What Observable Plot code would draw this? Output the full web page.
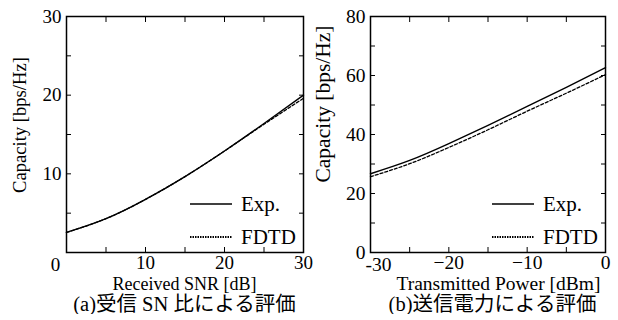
<!DOCTYPE html>
<html><head><meta charset="utf-8">
<script src="https://cdn.jsdelivr.net/npm/d3@7"></script>
<script src="https://cdn.jsdelivr.net/npm/@observablehq/plot@0.6"></script>
</head>
<body style="margin:0;padding:0;background:#fff;font-family:'Liberation Serif'">
<div id="row" style="display:flex;width:618px;"><div id="pa" style="position:relative;width:309px;"></div><div id="pb" style="position:relative;width:309px;"></div></div>
<script>
// Panel (a): capacity vs received SNR
const snrDb = [0, 5, 10, 15, 20, 25, 30];
const capExpA = [2.55, 4.3, 6.75, 9.65, 12.9, 16.4, 20.0];
const capFdtdA = [2.55, 4.3, 6.75, 9.65, 12.9, 16.3, 19.6];
// Panel (b): capacity vs transmitted power
const txPower = [-30, -25, -20, -15, -10, -5, 0];
const capExpB = [26.7, 31.2, 36.9, 43.1, 49.5, 56.0, 62.7];
const capFdtdB = [25.7, 30.1, 35.6, 41.6, 47.9, 54.0, 60.3];
const seriesNames = ["Exp.", "FDTD"];
const yTitle = "Capacity [bps/Hz]";
const xTitleA = "Received SNR [dB]";
const xTitleB = "Transmitted Power [dBm]";
const capA = "(a)受信 SN 比による評価";
const capB = "(b)送信電力による評価";

function rows(xs, ys){ return xs.map((x,i)=>({x, y: ys[i]})); }

function panel(o){
  const blank = () => "";
  return Plot.plot({
    width: 309, height: 272,
    marginLeft: o.ml, marginRight: o.mr, marginTop: 16, marginBottom: 20,
    x: {domain: o.xd}, y: {domain: o.yd},
    style: "font-family:'Liberation Serif';font-size:" + o.fs + "px;color:black;background:transparent;overflow:visible;display:block",
    marks: [
      Plot.axisX({anchor: "bottom", ticks: o.xMinor, tickSize: -5, tickFormat: blank, label: null}),
      Plot.axisX({anchor: "top", ticks: o.xMinor, tickSize: -5, tickFormat: blank, label: null}),
      Plot.axisY({anchor: "left", ticks: o.yMinor, tickSize: -5, tickFormat: blank, label: null}),
      Plot.axisY({anchor: "right", ticks: o.yMinor, tickSize: -5, tickFormat: blank, label: null}),
      Plot.axisX({anchor: "bottom", ticks: o.xLab, tickSize: 0, tickPadding: 3, label: null, fontSize: o.fs}),
      Plot.axisY({anchor: "left", ticks: o.yLab, tickSize: 0, tickPadding: 5, label: null, fontSize: o.fs}),
      Plot.text(o.extra, {x: d => d, frameAnchor: "bottom", dx: o.extraDx, dy: o.extraDy, lineAnchor: "middle", fontSize: o.fs}),
      Plot.line(rows(o.xs, o.exp), {x: "x", y: "y", stroke: "black", strokeWidth: 1.4, curve: "natural"}),
      Plot.line(rows(o.xs, o.fdtd), {x: "x", y: "y", stroke: "black", strokeWidth: 1.3, strokeDasharray: "3,2", curve: "natural"}),
      Plot.frame({stroke: "black", strokeWidth: 1.5})
    ]
  });
}

function legend(el, lx, tx, fs){
  const mk = (y, name, dash) => {
    const d = document.createElement("div");
    d.setAttribute("style", `position:absolute;left:${lx}px;top:${y - 12}px;font-family:'Liberation Serif';font-size:${fs}px;line-height:24px;white-space:nowrap;`);
    d.innerHTML = `<svg width="${tx - lx}" height="24" style="display:inline-block;vertical-align:top"><line x1="0" x2="${tx - lx - 9}" y1="12" y2="12" stroke="black" stroke-width="${dash ? 2 : 1.5}" ${dash ? 'stroke-dasharray="1.5,1"' : ''}/></svg>${name}`;
    el.appendChild(d);
  };
  mk(204, seriesNames[0], false);
  mk(237, seriesNames[1], true);
}

function yLabel(el, cx, cy, fs){
  const d = document.createElement("div");
  d.setAttribute("style", `position:absolute;left:${cx}px;top:${cy}px;transform:translate(-50%,-50%) rotate(-90deg);font-family:'Liberation Serif';font-size:${fs}px;line-height:${fs}px;white-space:nowrap;`);
  d.textContent = yTitle;
  el.appendChild(d);
}

function titles(el, xt, xfs, xpad, cap, cpad){
  el.insertAdjacentHTML("beforeend",
    `<div style="font-family:'Liberation Serif';font-size:${xfs}px;text-align:center;line-height:20px;height:20px;margin-top:2px;white-space:nowrap;padding-left:${xpad}px">${xt}</div>` +
    `<div style="font-family:'Liberation Serif','Noto Sans CJK JP';font-size:20.5px;text-align:center;line-height:20px;white-space:nowrap;padding-left:${cpad}px">${cap}</div>`);
}

const pa = document.getElementById("pa");
pa.appendChild(panel({ml: 66, mr: 6, xd: [0, 30], yd: [0, 30], fs: 19,
  xMinor: d3.range(0, 31, 5), yMinor: d3.range(0, 31, 5), xLab: [10, 20, 30], yLab: [10, 20, 30],
  extra: [0], extraDx: -11, extraDy: 12,
  xs: snrDb, exp: capExpA, fdtd: capFdtdA}));
titles(pa, xTitleA, 18, 60, capA, 60);
legend(pa, 190, 241, 21);
yLabel(pa, 20, 125, 18.6);

const pb = document.getElementById("pb");
pb.appendChild(panel({ml: 61, mr: 13, xd: [-30, 0], yd: [0, 80], fs: 19.5,
  xMinor: d3.range(-30, 1, 5), yMinor: d3.range(0, 81, 10), xLab: [-20, -10, 0], yLab: [0, 20, 40, 60, 80],
  extra: [-30], extraDx: 8, extraDy: 12,
  xs: txPower, exp: capExpB, fdtd: capFdtdB}));
titles(pb, xTitleB, 19.5, 70, capB, 58);
legend(pb, 183, 234, 21);
yLabel(pb, 15, 104, 21.5);
</script>
</body></html>
